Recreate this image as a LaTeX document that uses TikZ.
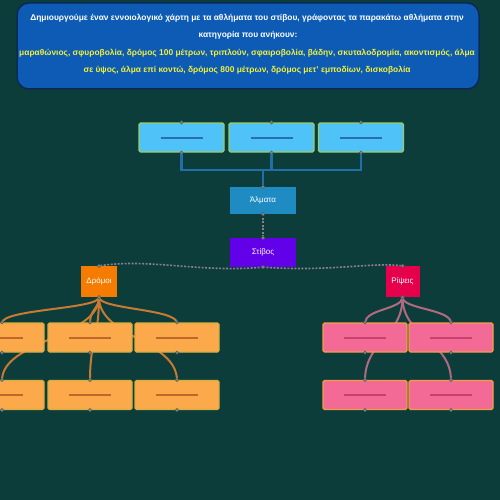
\documentclass[tikz,border=0pt]{standalone}
\usepackage{fontspec}
\setmainfont{Liberation Sans}
\usetikzlibrary{calc}
\definecolor{bg}{HTML}{0C3D3A}
\definecolor{titlefill}{HTML}{0D5BB5}
\definecolor{titleedge}{HTML}{0A2A55}
\definecolor{titleyel}{HTML}{F2F23A}
\definecolor{lblue}{HTML}{4FC3F7}
\definecolor{lgreen}{HTML}{9CCC65}
\definecolor{dblue}{HTML}{2A6DB0}
\definecolor{almata}{HTML}{1E8BC3}
\definecolor{stivos}{HTML}{6200EA}
\definecolor{dromoi}{HTML}{F57C00}
\definecolor{lorange}{HTML}{FBA94B}
\definecolor{oedge}{HTML}{D8B040}
\definecolor{dorange}{HTML}{C0682A}
\definecolor{ripseis}{HTML}{E6004C}
\definecolor{lpink}{HTML}{F46A96}
\definecolor{pedge}{HTML}{F0A040}
\definecolor{dpink}{HTML}{C8406E}
\definecolor{bluelink}{HTML}{1F6FA8}
\definecolor{olink}{HTML}{C87A32}
\definecolor{plink}{HTML}{B06A80}
\definecolor{dotlink}{HTML}{8A7F8F}
\definecolor{anch}{HTML}{7A8A8A}
\tikzset{
  box/.style={rectangle, rounded corners=1.5pt, line width=1.2pt, inner sep=0pt},
  topbox/.style={box, fill=lblue, draw=lgreen, minimum width=85pt, minimum height=29pt},
  obox/.style={box, fill=lorange, draw=oedge, minimum width=84pt, minimum height=29pt},
  pbox/.style={box, fill=lpink, draw=pedge, minimum width=84pt, minimum height=29pt},
  catbox/.style={rectangle, inner sep=0pt, text=white, font=\fontsize{8}{9}\selectfont},
  blank/.style={line width=2pt},
  anchordot/.style={circle, fill=anch, draw=anch!60!black, line width=0.4pt, inner sep=0pt, minimum size=3.6pt},
  bl/.style={draw=bluelink, line width=2.2pt},
  ol/.style={draw=olink, line width=2pt},
  pl/.style={draw=plink, line width=2pt},
  dl/.style={draw=dotlink, line width=1.6pt, dash pattern=on 2pt off 1.5pt},
  tline/.style={font=\bfseries\fontsize{8.4}{9}\selectfont}
}
\begin{document}
\begin{tikzpicture}[x=1pt,y=-1pt]
\useasboundingbox (0,0) rectangle (500,500);
\fill[bg] (0,0) rectangle (500,500);
\begin{scope}
\clip (0,0) rectangle (500,500);
% title
\node[draw=titleedge, line width=1.5pt, fill=titlefill, rounded corners=12pt, minimum width=462pt, minimum height=86pt, inner sep=0pt] (title) at (248,46) {};
\node[tline, text=white] (t1) at (247,18) {Δημιουργούμε έναν εννοιολογικό χάρτη με τα αθλήματα του στίβου, γράφοντας τα παρακάτω αθλήματα στην};
\node[tline, text=white] (t2) at (248,35) {κατηγορία που ανήκουν:};
\node[tline, text=titleyel] (t3) at (247,53) {μαραθώνιος, σφυροβολία, δρόμος 100 μέτρων, τριπλούν, σφαιροβολία, βάδην, σκυταλοδρομία, ακοντισμός, άλμα};
\node[tline, text=titleyel] (t4) at (247,70) {σε ύψος, άλμα επί κοντώ, δρόμος 800 μέτρων, δρόμος μετ' εμποδίων, δισκοβολία};

% top boxes
\node[topbox] (a1) at (181.5,137.5) {};
\node[topbox] (a2) at (271.5,137.5) {};
\node[topbox] (a3) at (361,137.5) {};
\node[catbox, fill=almata, minimum width=66pt, minimum height=27pt] (alm) at (263,200.5) {Άλματα};
\node[catbox, fill=stivos, minimum width=66pt, minimum height=29pt] (stiv) at (263,252.5) {Στίβος};
\node[catbox, fill=dromoi, minimum width=36pt, minimum height=31pt] (drom) at (99,281.5) {Δρόμοι};
\node[catbox, fill=ripseis, minimum width=34pt, minimum height=31pt] (rip) at (402.5,281.5) {Ρίψεις};

% blue connectors
\coordinate (j) at (263,170);
\draw[bl] (a1.south) |- (j);
\draw[bl] (a3.south) |- (j);
\draw[bl] (a2.south) -- (a2.south |- j);
\draw[bl] (j) -- (alm.north);
% dotted connectors
\draw[dl] (alm.south) -- (stiv.north);
\draw[dl] (stiv.south) .. controls (200,273) and (150,258) .. (drom.north);
\draw[dl] (stiv.south) .. controls (330,272) and (370,262) .. (rip.north);

% orange and pink coordinate targets
\coordinate (o1) at (2,337.5);
\coordinate (o2) at (90,337.5);
\coordinate (o3) at (177,337.5);
\coordinate (o4) at (2,395);
\coordinate (o5) at (90,395);
\coordinate (o6) at (177,395);
\coordinate (p1) at (365,337.5);
\coordinate (p2) at (451,337.5);
\coordinate (p3) at (365,395);
\coordinate (p4) at (451,395);

% connectors to row 2 (behind)
\draw[ol] (drom.south) .. controls +(0,40) and +(0,-40) .. ($(o4)+(0,-14.5)$);
\draw[ol] (drom.south) .. controls +(0,40) and +(0,-40) .. ($(o5)+(0,-14.5)$);
\draw[ol] (drom.south) .. controls +(0,40) and +(0,-40) .. ($(o6)+(0,-14.5)$);
\draw[pl] (rip.south) .. controls +(0,40) and +(0,-40) .. ($(p3)+(0,-14.5)$);
\draw[pl] (rip.south) .. controls +(0,40) and +(0,-40) .. ($(p4)+(0,-14.5)$);
% connectors to row 1
\draw[ol] (drom.south) .. controls +(0,12) and +(0,-14) .. ($(o1)+(0,-14.5)$);
\draw[ol] (drom.south) .. controls +(0,12) and +(0,-14) .. ($(o2)+(0,-14.5)$);
\draw[ol] (drom.south) .. controls +(0,12) and +(0,-14) .. ($(o3)+(0,-14.5)$);
\draw[pl] (rip.south) .. controls +(0,12) and +(0,-14) .. ($(p1)+(0,-14.5)$);
\draw[pl] (rip.south) .. controls +(0,12) and +(0,-14) .. ($(p2)+(0,-14.5)$);

% orange boxes
\node[obox] (b1) at (o1) {};
\node[obox] (b2) at (o2) {};
\node[obox] (b3) at (o3) {};
\node[obox] (b4) at (o4) {};
\node[obox] (b5) at (o5) {};
\node[obox] (b6) at (o6) {};
% pink boxes
\node[pbox] (c1) at (p1) {};
\node[pbox] (c2) at (p2) {};
\node[pbox] (c3) at (p3) {};
\node[pbox] (c4) at (p4) {};

% placeholder dashes
\foreach \n in {a1,a2,a3} \draw[blank, draw=dblue] ($(\n.center)+(-21,0)$) -- ($(\n.center)+(21,0)$);
\foreach \n in {b1,b2,b3,b4,b5,b6} \draw[blank, draw=dorange] ($(\n.center)+(-21,0)$) -- ($(\n.center)+(21,0)$);
\foreach \n in {c1,c2,c3,c4} \draw[blank, draw=dpink] ($(\n.center)+(-21,0)$) -- ($(\n.center)+(21,0)$);

% anchor dots
\foreach \n in {a1,a2,a3,alm,stiv,drom,rip,b1,b2,b3,b4,b5,b6,c1,c2,c3,c4} {
  \node[anchordot] at (\n.north) {};
  \node[anchordot] at (\n.south) {};
}
\end{scope}
\end{tikzpicture}
\end{document}
